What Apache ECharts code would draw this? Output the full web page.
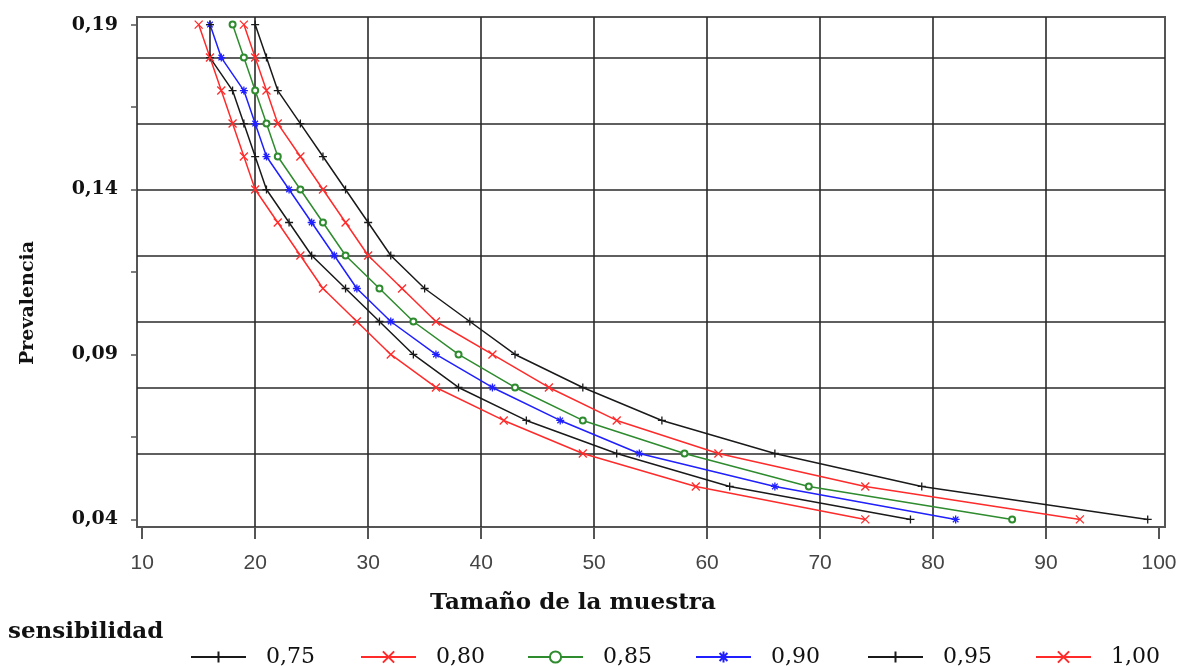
<!DOCTYPE html>
<html>
<head>
<meta charset="utf-8">
<title>Prevalencia vs tamaño de la muestra</title>
<script src="https://cdn.jsdelivr.net/npm/echarts@6/dist/echarts.min.js"></script>
<style>
  html, body { margin: 0; padding: 0; background: #fff; }
  #chart { width: 1180px; height: 666px; }
</style>
</head>
<body>
<div id="chart"></div>
<script>
// prevalencia (eje Y), de 0,04 a 0,19
const prevalencia = [0.04, 0.05, 0.06, 0.07, 0.08, 0.09, 0.10, 0.11, 0.12, 0.13, 0.14, 0.15, 0.16, 0.17, 0.18, 0.19];

// tamaño de la muestra para cada sensibilidad (mismo orden que prevalencia)
const sens075 = [99, 79, 66, 56, 49, 43, 39, 35, 32, 30, 28, 26, 24, 22, 21, 20];
const sens080 = [93, 74, 61, 52, 46, 41, 36, 33, 30, 28, 26, 24, 22, 21, 20, 19];
const sens085 = [87, 69, 58, 49, 43, 38, 34, 31, 28, 26, 24, 22, 21, 20, 19, 18];
const sens090 = [82, 66, 54, 47, 41, 36, 32, 29, 27, 25, 23, 21, 20, 19, 17, 16];
const sens095 = [78, 62, 52, 44, 38, 34, 31, 28, 25, 23, 21, 20, 19, 18, 16, 16];
const sens100 = [74, 59, 49, 42, 36, 32, 29, 26, 24, 22, 20, 19, 18, 17, 16, 15];

const nombres = ['0,75', '0,80', '0,85', '0,90', '0,95', '1,00'];

// ticks y etiquetas de los ejes
const xTicks = [10, 20, 30, 40, 50, 60, 70, 80, 90, 100];
const xGrid = [20, 30, 40, 50, 60, 70, 80, 90];
const yTicks = [0.04, 0.065, 0.09, 0.115, 0.14, 0.165, 0.19];
const yLabels = [0.04, 0.09, 0.14, 0.19];
const yGrid = [0.06, 0.08, 0.10, 0.12, 0.14, 0.16, 0.18];

const muestras = [sens075, sens080, sens085, sens090, sens095, sens100];

const NEGRO = '#1a1a1a', ROJO = '#ff2b2b', VERDE = '#2e8b2e', AZUL = '#1f1fff';
const PLUS = 'path://M0,-1L0,1M-1,0L1,0';
const CRUZ = 'path://M-1,-1L1,1M-1,1L1,-1';
const ESTRELLA = 'path://M0,-1L0,1M-1,0L1,0M-0.7,-0.7L0.7,0.7M-0.7,0.7L0.7,-0.7';

const estilos = [
    { color: NEGRO, symbol: PLUS },
    { color: ROJO, symbol: CRUZ },
    { color: VERDE, symbol: 'emptyCircle' },
    { color: AZUL, symbol: ESTRELLA },
    { color: NEGRO, symbol: PLUS },
    { color: ROJO, symbol: CRUZ }
];

const serif = '"DejaVu Serif", "Liberation Serif", serif';
const fmtComa = (v) => v.toFixed(2).replace('.', ',');

let series = muestras.map((arr, i) => ({
    name: nombres[i],
    type: 'line',
    xAxisIndex: 0,
    yAxisIndex: 0,
    data: prevalencia.map((p, j) => [arr[j], p]),
    symbol: estilos[i].symbol,
    symbolSize: estilos[i].symbol === 'emptyCircle' ? 6 : 8,
    showSymbol: true,
    lineStyle: { color: estilos[i].color, width: 1.5 },
    itemStyle: {
        color: estilos[i].color,
        borderColor: estilos[i].color,
        borderWidth: 1.3
    },
    animation: false
}));

// una leyenda por serie para fijar la posición de cada elemento
const legendLeft = [185, 355, 522, 690, 862, 1030];
let legends = nombres.map((n, i) => ({
    data: [n],
    left: legendLeft[i],
    top: 641,
    itemWidth: 55,
    itemHeight: 14,
    selectedMode: false,
    textStyle: { fontFamily: serif, fontSize: 22, color: '#111', padding: [4, 0, 0, 15] }
}));

let chart = echarts.init(document.getElementById('chart'), null, { renderer: 'canvas' });

chart.setOption({
    backgroundColor: '#fff',
    animation: false,
    grid: {
        left: 137, right: 15, top: 17, bottom: 139,
        show: true, borderColor: '#555', borderWidth: 2, backgroundColor: 'transparent'
    },
    legend: legends,
    xAxis: [{
        type: 'value',
        min: 9.54, max: 100.53,
        axisLine: { show: false },
        axisTick: { show: true, length: 12, inside: false, customValues: xTicks, lineStyle: { color: '#555', width: 2 } },
        axisLabel: { customValues: xTicks, margin: 26, fontFamily: '"Liberation Sans Narrow", "Liberation Sans", sans-serif', fontSize: 21, color: '#444' },
        splitLine: { show: false }
    }, {
        type: 'value',
        min: 9.54, max: 100.53,
        axisLine: { show: false },
        axisTick: { show: false, customValues: xGrid },
        axisLabel: { show: false },
        splitLine: { show: true, lineStyle: { color: '#2a2a2a', width: 1.6 } }
    }],
    yAxis: [{
        type: 'value',
        min: 0.0377, max: 0.1923,
        axisLine: { show: false },
        axisTick: { show: true, length: 6, customValues: yTicks, lineStyle: { color: '#555', width: 1.5 } },
        axisLabel: { customValues: yLabels, formatter: fmtComa, margin: 19, fontFamily: serif, fontWeight: 'bold', fontSize: 19, color: '#111' },
        splitLine: { show: false }
    }, {
        type: 'value',
        min: 0.0377, max: 0.1923,
        axisLine: { show: false },
        axisTick: { show: false, customValues: yGrid },
        axisLabel: { show: false },
        splitLine: { show: true, lineStyle: { color: '#2a2a2a', width: 1.6 } }
    }],
    graphic: [
        { type: 'text', left: 430, top: 592, style: { text: 'Tamaño de la muestra', font: 'bold 23px ' + serif, fill: '#111' } },
        { type: 'text', x: 28, y: 303, rotation: Math.PI / 2, style: { text: 'Prevalencia', font: 'bold 19px ' + serif, fill: '#111', align: 'center', verticalAlign: 'middle' } },
        { type: 'text', left: 8, top: 621, style: { text: 'sensibilidad', font: 'bold 23px ' + serif, fill: '#111' } }
    ],
    series: series
});
</script>
</body>
</html>
